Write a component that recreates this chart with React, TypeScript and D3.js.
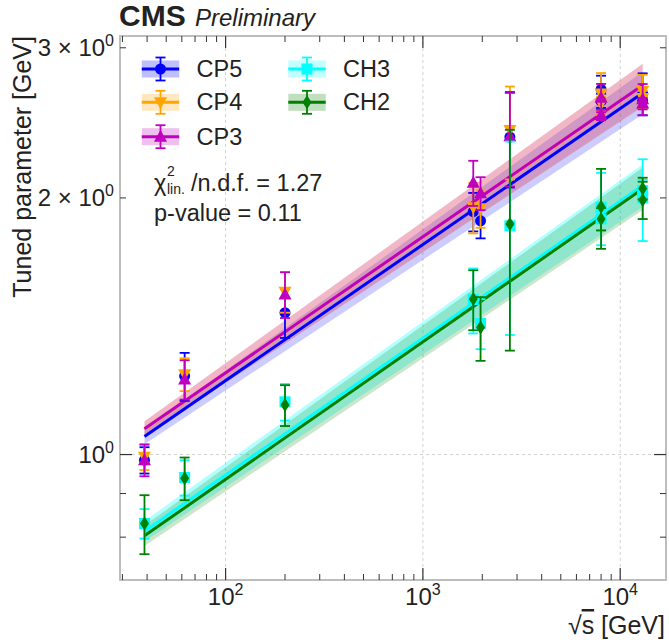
import React from "react";
import * as d3 from "d3";

// ---------- data ----------
const energies = [38.8, 62, 200, 1800, 1960, 2760, 8000, 8000, 13000, 13000];
const tuneNames = ["CP5", "CP4", "CP3", "CH3", "CH2"];
const tuneColors = ["#0000ff", "#ffa500", "#bf00bf", "#00ffff", "#008000"];
const tuneMarkers = ["circle", "triangleDown", "triangleUp", "square", "diamond"];
const bandOpacity = [0.2, 0.22, 0.22, 0.3, 0.2];

const cp5Values = [0.985, 1.236, 1.467, 1.927, 1.88, 2.357, 2.682, 2.6, 2.65, 2.6];
const cp5Errors = [0.035, 0.08, 0.097, 0.1, 0.087, 0.3, 0.1, 0.05, 0.15, 0.05];
const cp4Values = [0.994, 1.242, 1.552, 1.95, 1.945, 2.402, 2.652, 2.58, 2.669, 2.62];
const cp4Errors = [0.035, 0.055, 0.085, 0.133, 0.1, 0.3, 0.15, 0.05, 0.12, 0.05];
const cp3Values = [0.985, 1.225, 1.541, 2.084, 2.025, 2.363, 2.621, 2.502, 2.61, 2.58];
const cp3Errors = [0.042, 0.065, 0.095, 0.127, 0.09, 0.3, 0.1, 0.035, 0.11, 0.04];
const ch3Values = [0.83, 0.94, 1.153, 1.52, 1.425, 1.855, 1.95, 1.89, 2.0, 2.04];
const ch3Errors = [0.033, 0.045, 0.057, 0.133, 0.096, 0.474, 0.19, 0.06, 0.22, 0.06];
const ch2Values = [0.83, 0.938, 1.143, 1.522, 1.409, 1.864, 1.953, 1.889, 2.052, 1.989];
const ch2Errors = [0.066, 0.054, 0.063, 0.123, 0.121, 0.54, 0.21, 0.057, 0.06, 0.1];

// linear fit (log-log) endpoints and band half widths (log10 units)
const fitEnergies = [38.8, 13000];
const fitCP5 = [1.05, 2.655];
const fitCP4 = [1.071, 2.71];
const fitCP3 = [1.072, 2.712];
const fitCH3 = [0.813, 2.068];
const fitCH2 = [0.803, 2.05];
const bandCP5 = [0.009, 0.025];
const bandCP4 = [0.009, 0.025];
const bandCP3 = [0.009, 0.025];
const bandCH3 = [0.012, 0.025];
const bandCH2 = [0.012, 0.025];

const xMajorTicks = [100, 1000, 10000];
const xMajorLabels = ["2", "3", "4"];
const xMinorTicks = [30, 40, 50, 60, 70, 80, 90, 200, 300, 400, 500, 600, 700, 800, 900, 2000, 3000, 4000, 5000, 6000, 7000, 8000, 9000];
const yMajorTicks = [1];
const yMinorTicks = [0.8, 0.9, 2, 3];
const yTickLabels = [
  { v: 3, pre: "3 × 10", sup: "0" },
  { v: 2, pre: "2 × 10", sup: "0" },
  { v: 1, pre: "10", sup: "0" },
];

const allValues = [cp5Values, cp4Values, cp3Values, ch3Values, ch2Values];
const allErrors = [cp5Errors, cp4Errors, cp3Errors, ch3Errors, ch2Errors];
const allFits = [fitCP5, fitCP4, fitCP3, fitCH3, fitCH2];
const allBands = [bandCP5, bandCP4, bandCP3, bandCH3, bandCH2];

// ---------- layout ----------
const W = 669, H = 642;
const L = 120, R = 666, T = 36, B = 580;
const FONT = "'Liberation Sans', Arial, Helvetica, sans-serif";

const x = d3.scaleLog().domain([29.16, 17066]).range([L, R]);
const y = d3.scaleLog().domain([0.7126, 3.097]).range([B, T]);

function Marker({ type, cx, cy, color }: { type: string; cx: number; cy: number; color: string }) {
  if (type === "circle") return <circle cx={cx} cy={cy} r={5.5} fill={color} />;
  if (type === "square") return <rect x={cx - 5.5} y={cy - 5.5} width={11} height={11} fill={color} />;
  if (type === "triangleUp") {
    const p = d3.path();
    p.moveTo(cx, cy - 7); p.lineTo(cx + 6.5, cy + 5); p.lineTo(cx - 6.5, cy + 5); p.closePath();
    return <path d={p.toString()} fill={color} />;
  }
  if (type === "triangleDown") {
    const p = d3.path();
    p.moveTo(cx, cy + 7); p.lineTo(cx + 6.5, cy - 5); p.lineTo(cx - 6.5, cy - 5); p.closePath();
    return <path d={p.toString()} fill={color} />;
  }
  const p = d3.path();
  p.moveTo(cx, cy - 7); p.lineTo(cx + 4.5, cy); p.lineTo(cx, cy + 7); p.lineTo(cx - 4.5, cy); p.closePath();
  return <path d={p.toString()} fill={color} />;
}

function bandPath(fit: number[], band: number[]) {
  const x0 = x(fitEnergies[0]), x1 = x(fitEnergies[1]);
  const l0 = Math.log10(fit[0]), l1 = Math.log10(fit[1]);
  const pts: [number, number][] = [
    [x0, y(Math.pow(10, l0 + band[0]))],
    [x1, y(Math.pow(10, l1 + band[1]))],
    [x1, y(Math.pow(10, l1 - band[1]))],
    [x0, y(Math.pow(10, l0 - band[0]))],
  ];
  return d3.line()(pts) + "Z";
}

export default function App() {
  const tickColor = "#333";
  const spine = "#bdbdbd";
  return (
    <svg width={W} height={H} style={{ display: "block", position: "absolute", left: 0, top: 0 }} fontFamily={FONT}>
      <rect width={W} height={H} fill="white" />
      {/* grid */}
      {xMajorTicks.map((t) => (
        <line key={"gx" + t} x1={x(t)} x2={x(t)} y1={T} y2={B} stroke="#d0d0d0" strokeDasharray="3,3" strokeWidth={1} />
      ))}
      {yMajorTicks.map((t) => (
        <line key={"gy" + t} x1={L} x2={R} y1={y(t)} y2={y(t)} stroke="#d0d0d0" strokeDasharray="3,3" strokeWidth={1} />
      ))}

      <defs>
        <clipPath id="plotclip"><rect x={L} y={T} width={R - L} height={B - T} /></clipPath>
      </defs>
      <g clipPath="url(#plotclip)">
        {/* bands */}
        {allFits.map((f, i) => (
          <path key={"band" + i} d={bandPath(f, allBands[i])} fill={tuneColors[i]} fillOpacity={bandOpacity[i]} />
        ))}
        {/* fit lines */}
        {allFits.map((f, i) => (
          <line key={"fit" + i} x1={x(fitEnergies[0])} x2={x(fitEnergies[1])} y1={y(f[0])} y2={y(f[1])}
            stroke={tuneColors[i]} strokeWidth={3} />
        ))}
        {/* points */}
        {allValues.map((vals, i) => (
          <g key={"pts" + i}>
            {vals.map((v, j) => {
              const cx = x(energies[j]);
              const e = allErrors[i][j];
              const yt = y(v + e), yb = y(v - e);
              return (
                <g key={j}>
                  <line x1={cx} x2={cx} y1={yt} y2={yb} stroke={tuneColors[i]} strokeWidth={1.8} />
                  <line x1={cx - 5} x2={cx + 5} y1={yt} y2={yt} stroke={tuneColors[i]} strokeWidth={1.8} />
                  <line x1={cx - 5} x2={cx + 5} y1={yb} y2={yb} stroke={tuneColors[i]} strokeWidth={1.8} />
                  <Marker type={tuneMarkers[i]} cx={cx} cy={y(v)} color={tuneColors[i]} />
                </g>
              );
            })}
          </g>
        ))}
      </g>

      {/* frame */}
      <rect x={L} y={T} width={R - L} height={B - T} fill="none" stroke={spine} strokeWidth={2} />
      {/* x ticks */}
      {xMajorTicks.map((t) => (
        <g key={"xt" + t}>
          <line x1={x(t)} x2={x(t)} y1={B} y2={B - 12} stroke={tickColor} strokeWidth={1.2} />
          <line x1={x(t)} x2={x(t)} y1={T} y2={T + 12} stroke={tickColor} strokeWidth={1.2} />
        </g>
      ))}
      {xMinorTicks.map((t) => (
        <g key={"xm" + t}>
          <line x1={x(t)} x2={x(t)} y1={B} y2={B - 6} stroke={tickColor} strokeWidth={1} />
          <line x1={x(t)} x2={x(t)} y1={T} y2={T + 6} stroke={tickColor} strokeWidth={1} />
        </g>
      ))}
      {yMajorTicks.map((t) => (
        <g key={"yt" + t}>
          <line x1={L} x2={L + 12} y1={y(t)} y2={y(t)} stroke={tickColor} strokeWidth={1.2} />
          <line x1={R} x2={R - 12} y1={y(t)} y2={y(t)} stroke={tickColor} strokeWidth={1.2} />
        </g>
      ))}
      {yMinorTicks.map((t) => (
        <g key={"ym" + t}>
          <line x1={L} x2={L + 6} y1={y(t)} y2={y(t)} stroke={tickColor} strokeWidth={1} />
          <line x1={R} x2={R - 6} y1={y(t)} y2={y(t)} stroke={tickColor} strokeWidth={1} />
        </g>
      ))}
      {/* x tick labels */}
      {xMajorTicks.map((t, i) => (
        <text key={"xl" + t} x={x(t)} y={605} textAnchor="middle" fontSize={24} fill="#222">
          10<tspan dy={-10} fontSize={16}>{xMajorLabels[i]}</tspan>
        </text>
      ))}
      {/* y tick labels */}
      {yTickLabels.map((d) => (
        <text key={"yl" + d.v} x={114} y={y(d.v) + 8} textAnchor="end" fontSize={24} fill="#222">
          {d.pre}<tspan dy={-10} fontSize={16}>{d.sup}</tspan>
        </text>
      ))}

      {/* axis labels */}
      <text x={665} y={634} textAnchor="end" fontSize={25} fill="#222">
        √<tspan style={{ textDecoration: "overline" }}>s</tspan> [GeV]
      </text>
      <text transform="translate(31,36) rotate(-90)" textAnchor="end" fontSize={25} fill="#222">Tuned parameter [GeV]</text>

      {/* title */}
      <text x={119} y={26} fontSize={30} fontWeight="bold" fill="#222">CMS</text>
      <text x={195} y={26} fontSize={24} fontStyle="italic" fill="#222">Preliminary</text>

      {/* legend */}
      {tuneNames.map((name, i) => {
        const col = i < 3 ? 0 : 1;
        const row = i < 3 ? i : i - 3;
        const cx = col === 0 ? 160.5 : 307;
        const cy = [69, 102.3, 136.7][row];
        return (
          <g key={"leg" + name}>
            <rect x={cx - 18.7} y={cy - 8.5} width={37.4} height={17} fill={tuneColors[i]} fillOpacity={0.25} />
            <line x1={cx - 18.7} x2={cx + 18.7} y1={cy} y2={cy} stroke={tuneColors[i]} strokeWidth={3} />
            <line x1={cx} x2={cx} y1={cy - 11.5} y2={cy + 11.5} stroke={tuneColors[i]} strokeWidth={1.8} />
            <line x1={cx - 5} x2={cx + 5} y1={cy - 11.5} y2={cy - 11.5} stroke={tuneColors[i]} strokeWidth={1.8} />
            <line x1={cx - 5} x2={cx + 5} y1={cy + 11.5} y2={cy + 11.5} stroke={tuneColors[i]} strokeWidth={1.8} />
            <Marker type={tuneMarkers[i]} cx={cx} cy={cy} color={tuneColors[i]} />
            <text x={cx + 36} y={cy + 8} fontSize={23.5} fill="#222">{name}</text>
          </g>
        );
      })}

      {/* fit annotation */}
      <text x={154} y={191} fontSize={23.5} fill="#222">χ</text>
      <text x={167} y={176} fontSize={14} fill="#222">2</text>
      <text x={167} y={194} fontSize={14} fill="#222">lin.</text>
      <text x={191} y={191} fontSize={23.5} fill="#222">/n.d.f. = 1.27</text>
      <text x={154} y={221} fontSize={23.5} fill="#222">p-value = 0.11</text>
    </svg>
  );
}
